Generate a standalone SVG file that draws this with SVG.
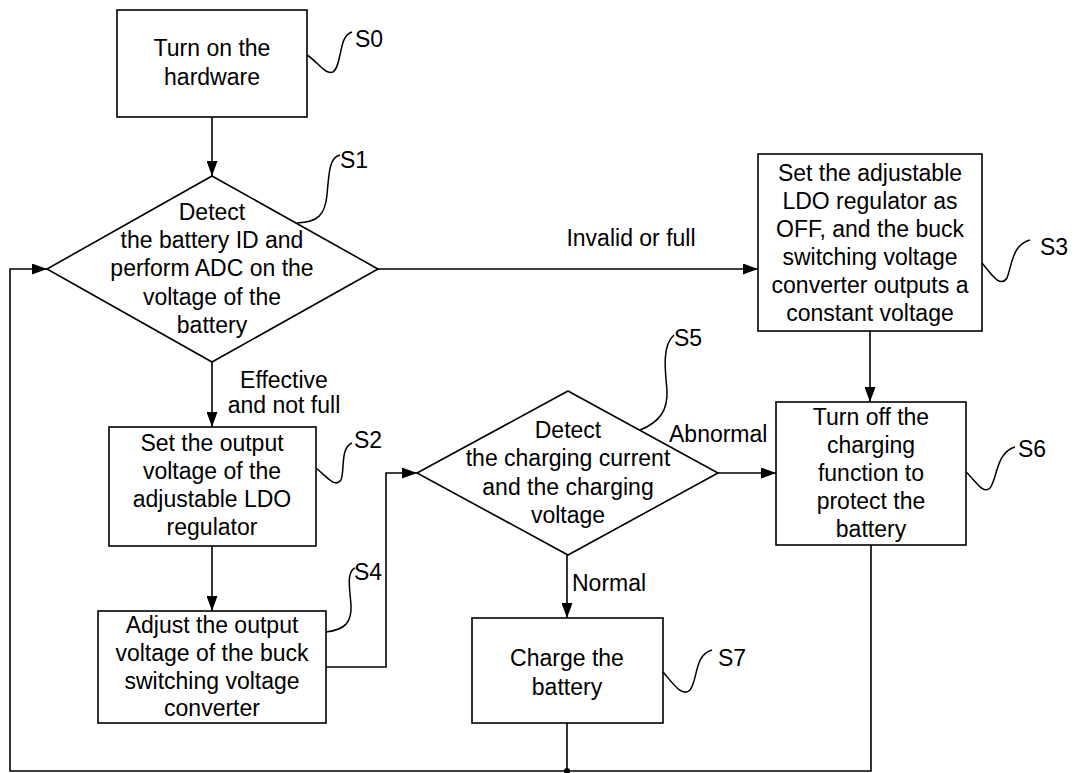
<svg xmlns="http://www.w3.org/2000/svg" width="1075" height="773" viewBox="0 0 1075 773">
<style>
.box{fill:#fff;stroke:#000;stroke-width:1.6}
.ln{fill:none;stroke:#000;stroke-width:1.6}
.sq{fill:none;stroke:#000;stroke-width:1.5}
text{font-family:"Liberation Sans",Arial,sans-serif;font-size:23px;fill:#000}
.c{text-anchor:middle}
</style>
<defs>
<marker id="ah" markerUnits="userSpaceOnUse" markerWidth="15" markerHeight="11" refX="15" refY="5.5" orient="auto">
<path d="M0,0 L15,5.5 L0,11 z" fill="#000"/>
</marker>
</defs>
<rect width="1075" height="773" fill="#fff"/>
<g id="connectors">
<path class="ln" d="M212,117 V176" marker-end="url(#ah)"/>
<path class="ln" d="M378,269 H758" marker-end="url(#ah)"/>
<path class="ln" d="M212,362 V427" marker-end="url(#ah)"/>
<path class="ln" d="M212,546 V611" marker-end="url(#ah)"/>
<path class="ln" d="M326,667 H386 V473 H417" marker-end="url(#ah)"/>
<path class="ln" d="M870,331 V402" marker-end="url(#ah)"/>
<path class="ln" d="M718,473 H776" marker-end="url(#ah)"/>
<path class="ln" d="M567,555 V618" marker-end="url(#ah)"/>
<path class="ln" d="M567,723 V771"/>
<path class="ln" d="M871,545 V771 H10 V269 H47" marker-end="url(#ah)"/>
<circle cx="567" cy="771" r="3" fill="#000"/>
<text x="631" y="246" class="c">Invalid or full</text>
<text x="284" y="388" class="c">Effective</text>
<text x="284" y="413" class="c">and not full</text>
<text x="669" y="442">Abnormal</text>
<text x="572" y="591">Normal</text>
</g>
<g id="S0">
<rect class="box" x="117" y="10" width="190" height="107"/>
<text x="212" y="56" class="c">Turn on the</text>
<text x="212" y="85" class="c">hardware</text>
<path class="sq" d="M307,55 C318,62 325,75 333,72 C340,68 340,45 345,38 C347,34 349,33 352,32"/>
<text x="355" y="47">S0</text>
</g>
<g id="S1">
<polygon class="box" points="212,176 378,269 212,362 47,269"/>
<text x="212" y="220" class="c">Detect</text>
<text x="212" y="248" class="c">the battery ID and</text>
<text x="212" y="276" class="c">perform ADC on the</text>
<text x="212" y="305" class="c">voltage of the</text>
<text x="212" y="333" class="c">battery</text>
<path class="sq" d="M297,223 C318,222 325,215 327,195 C329,170 330,157 340,155"/>
<text x="340" y="168">S1</text>
</g>
<g id="S2">
<rect class="box" x="109" y="427" width="207" height="119"/>
<text x="212" y="451" class="c">Set the output</text>
<text x="212" y="479" class="c">voltage of the</text>
<text x="212" y="507" class="c">adjustable LDO</text>
<text x="212" y="535" class="c">regulator</text>
<path class="sq" d="M316,468 C328,478 335,488 341,480 C345,470 340,448 352,443"/>
<text x="354" y="448">S2</text>
</g>
<g id="S3">
<rect class="box" x="758" y="154" width="224" height="177"/>
<text x="870" y="181" class="c">Set the adjustable</text>
<text x="870" y="209" class="c">LDO regulator as</text>
<text x="870" y="237" class="c">OFF, and the buck</text>
<text x="870" y="265" class="c">switching voltage</text>
<text x="870" y="293" class="c">converter outputs a</text>
<text x="870" y="321" class="c">constant voltage</text>
<path class="sq" d="M982,263 C992,275 1000,288 1007,278 C1012,265 1012,245 1030,240"/>
<text x="1040" y="255">S3</text>
</g>
<g id="S4">
<rect class="box" x="98" y="611" width="228" height="112"/>
<text x="212" y="633" class="c">Adjust the output</text>
<text x="212" y="661" class="c">voltage of the buck</text>
<text x="212" y="689" class="c">switching voltage</text>
<text x="212" y="716" class="c">converter</text>
<path class="sq" d="M326,632 C345,630 352,622 351,605 C350,590 346,572 355,568"/>
<text x="354" y="580">S4</text>
</g>
<g id="S5">
<polygon class="box" points="568,391 718,473 568,555 417,473"/>
<text x="568" y="438" class="c">Detect</text>
<text x="568" y="466" class="c">the charging current</text>
<text x="568" y="495" class="c">and the charging</text>
<text x="568" y="523" class="c">voltage</text>
<path class="sq" d="M640,430 C660,422 668,410 667,390 C665,370 662,345 674,335"/>
<text x="674" y="346">S5</text>
</g>
<g id="S6">
<rect class="box" x="776" y="402" width="190" height="143"/>
<text x="871" y="425" class="c">Turn off the</text>
<text x="871" y="453" class="c">charging</text>
<text x="871" y="481" class="c">function to</text>
<text x="871" y="509" class="c">protect the</text>
<text x="871" y="537" class="c">battery</text>
<path class="sq" d="M966,472 C975,480 983,495 990,488 C997,480 996,452 1015,447"/>
<text x="1018" y="457">S6</text>
</g>
<g id="S7">
<rect class="box" x="472" y="618" width="191" height="105"/>
<text x="567" y="666" class="c">Charge the</text>
<text x="567" y="695" class="c">battery</text>
<path class="sq" d="M663,672 C672,682 682,698 690,690 C698,680 694,655 712,650"/>
<text x="718" y="666">S7</text>
</g>
</svg>
